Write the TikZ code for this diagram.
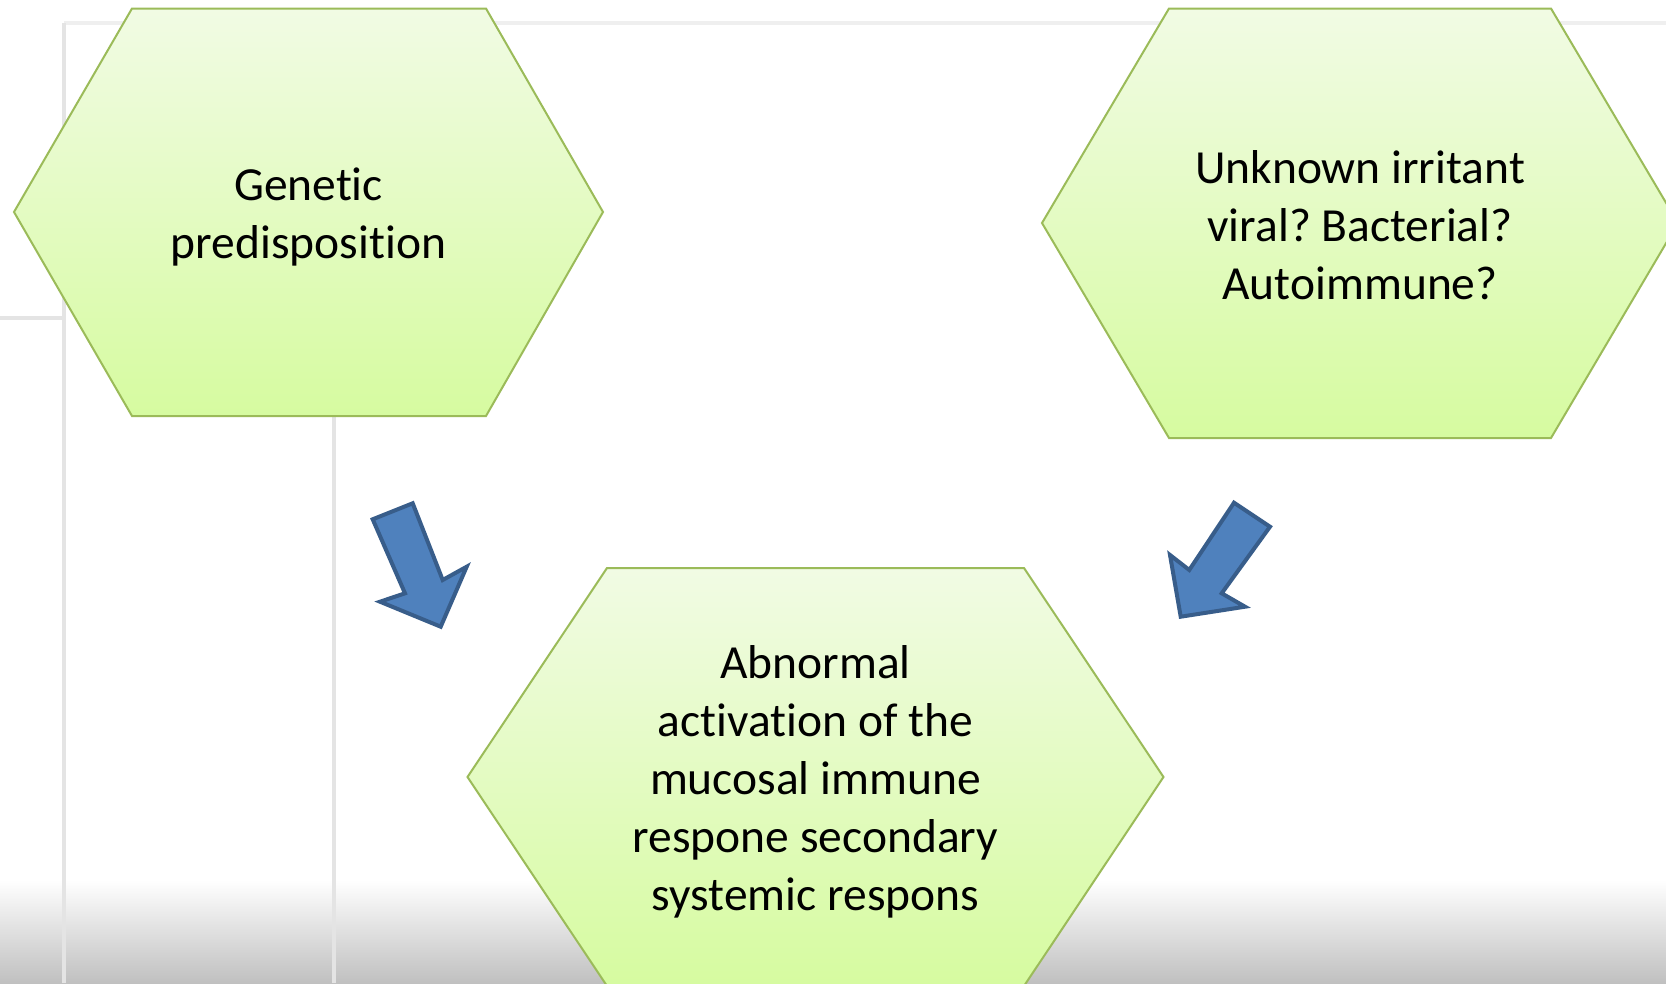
\documentclass[tikz,border=0pt]{standalone}
\usepackage{fontspec}
\setmainfont[Ligatures={NoCommon}]{Carlito}
\frenchspacing
\definecolor{hexline}{RGB}{155,187,89}
\definecolor{hextop}{RGB}{241,251,228}
\definecolor{hexbot}{RGB}{214,251,160}
\definecolor{arrfill}{RGB}{79,129,189}
\definecolor{arrline}{RGB}{56,93,138}
\definecolor{frameline}{RGB}{228,228,228}
\definecolor{shadowgray}{RGB}{192,192,192}
\tikzset{
  hexbox/.style={draw=hexline, line width=2pt, top color=hextop, bottom color=hexbot, line join=miter},
  hextext/.style={align=center, font=\fontsize{47.5}{58}\selectfont\frenchspacing, text=black, inner sep=0pt},
  blockarrow/.style={fill=arrfill, draw=arrline, line width=4pt, line join=miter},
  frame/.style={draw=frameline, line width=4pt}
}
\begin{document}
\begin{tikzpicture}[x=1pt,y=-1pt]
\useasboundingbox (0,0) rectangle (1666,983);
\clip (0,0) rectangle (1666,983);
\fill[white] (0,0) rectangle (1666,983);
% bottom shadow
\shade[top color=white, bottom color=shadowgray] (0,880) rectangle (1666,983);
% faint frame lines
\draw[frame, draw=frameline!60] (64,23) -- (1666,23);
\draw[frame] (64,23) -- (64,983);
\draw[frame] (0,318) -- (66,318);
\draw[frame] (334,416) -- (334,983);
% hexagons
\shade[hexbox] (132,8.5) -- (486,8.5) -- (603,212) -- (486,416) -- (132,416) -- (14,212) -- cycle;
\node[hextext] (gen) at (308.5,217) {Genetic\\predisposition};
\shade[hexbox] (1169,8.5) -- (1551,8.5) -- (1678,223) -- (1551,438) -- (1169,438) -- (1042,223) -- cycle;
\node[hextext] (irr) at (1360,225) {Unknown irritant\\viral? Bacterial?\\Autoimmune?};
\shade[hexbox] (607,568) -- (1024,568) -- (1163.5,777) -- (1024,986) -- (607,986) -- (467.5,777) -- cycle;
\node[hextext] (abn) at (815.5,782) {Abnormal\\activation of the\\mucosal immune\\respone secondary\\systemic respons};
% block arrows
\filldraw[blockarrow] (372.7,519.3) -- (412.7,503.3) -- (442.7,580) -- (466.7,566.7) -- (440.7,626.7) -- (380,601.7) -- (405,593.3) -- cycle;
\filldraw[blockarrow] (1234,502.7) -- (1270,526.7) -- (1221.7,593.3) -- (1245,606.7) -- (1180.7,616.7) -- (1170,555) -- (1189.3,570) -- cycle;
\end{tikzpicture}
\end{document}
